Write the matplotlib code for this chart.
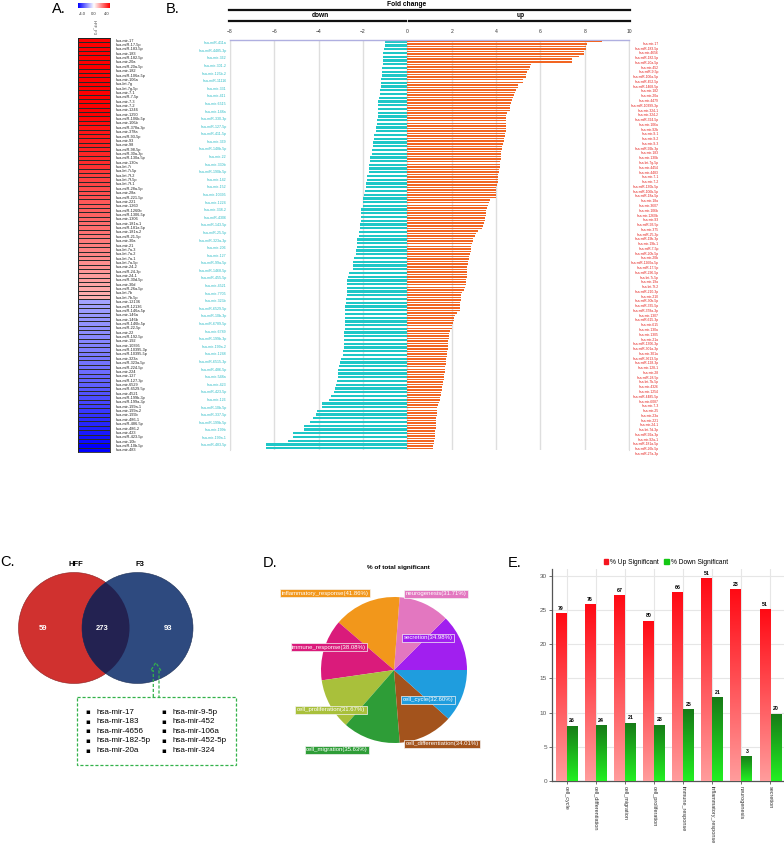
import numpy as np
import matplotlib
matplotlib.use("Agg")
import matplotlib.pyplot as plt
from matplotlib.patches import Circle, Rectangle, Patch
from matplotlib.colors import LinearSegmentedColormap

# ---------------- data ----------------
heat_names = [
    "hsa-mir-17", "hsa-miR-17-5p", "hsa-miR-183-5p", "hsa-mir-183", "hsa-miR-182-5p",
    "hsa-mir-20a", "hsa-miR-20a-5p", "hsa-mir-182", "hsa-miR-106a-5p", "hsa-mir-106a",
    "hsa-let-7g", "hsa-let-7g-5p", "hsa-mir-7-1", "hsa-miR-7-5p", "hsa-mir-7-3",
    "hsa-mir-7-2", "hsa-mir-1246", "hsa-mir-1290", "hsa-miR-106b-5p", "hsa-mir-106b",
    "hsa-miR-378a-3p", "hsa-mir-378a", "hsa-miR-93-5p", "hsa-mir-93", "hsa-mir-98",
    "hsa-miR-98-5p", "hsa-miR-30a-3p", "hsa-miR-130a-5p", "hsa-mir-130a", "hsa-let-7i",
    "hsa-let-7i-5p", "hsa-let-7f-2", "hsa-let-7f-5p", "hsa-let-7f-1", "hsa-miR-28a-5p",
    "hsa-mir-28a", "hsa-miR-221-5p", "hsa-mir-221", "hsa-mir-1260", "hsa-miR-1260b",
    "hsa-miR-1306-5p", "hsa-mir-1306", "hsa-mir-181a-1", "hsa-miR-181a-5p", "hsa-mir-181a-2",
    "hsa-miR-21-5p", "hsa-mir-30a", "hsa-mir-21", "hsa-let-7a-3", "hsa-let-7a-2",
    "hsa-let-7a-1", "hsa-let-7a-5p", "hsa-mir-24-2", "hsa-miR-24-3p", "hsa-mir-24-1",
    "hsa-miR-30d-5p", "hsa-mir-30d", "hsa-miR-26a-5p", "hsa-let-7b", "hsa-let-7b-5p",
    "hsa-mir-12136", "hsa-miR-12136", "hsa-miR-146a-5p", "hsa-mir-146a", "hsa-mir-146b",
    "hsa-miR-146b-5p", "hsa-miR-22-5p", "hsa-mir-22", "hsa-miR-192-5p", "hsa-mir-192",
    "hsa-mir-10395", "hsa-miR-10395-3p", "hsa-miR-10395-5p", "hsa-mir-323a", "hsa-miR-323a-5p",
    "hsa-miR-224-5p", "hsa-mir-224", "hsa-mir-127", "hsa-miR-127-3p", "hsa-mir-6529",
    "hsa-miR-6529-5p", "hsa-mir-4521", "hsa-miR-199b-3p", "hsa-miR-199a-3p", "hsa-mir-199a-1",
    "hsa-mir-199a-2", "hsa-mir-199b", "hsa-mir-486-1", "hsa-miR-486-5p", "hsa-mir-486-2",
    "hsa-mir-423", "hsa-miR-423-5p", "hsa-mir-10b", "hsa-miR-10b-5p", "hsa-mir-483",
]
heat_values = [
    6.2, 6.0, 5.8, 5.6, 5.5, 5.4, 5.2, 5.1, 5.0, 4.9,
    4.8, 4.7, 4.6, 4.5, 4.4, 4.3, 4.2, 4.1, 3.9, 3.8,
    3.7, 3.65, 3.6, 3.55, 3.5, 3.45, 3.4, 3.35, 3.3, 3.2,
    3.1, 3.0, 2.95, 2.9, 2.8, 2.75, 2.7, 2.6, 2.55, 2.5,
    2.45, 2.4, 2.3, 2.25, 2.2, 2.1, 2.05, 2.0, 1.95, 1.9,
    1.8, 1.75, 1.7, 1.6, 1.55, 1.5, 1.4, 1.35, 1.3, 1.2,
    -1.45, -1.5, -1.55, -1.6, -1.65, -1.7, -1.75, -1.8, -1.85, -1.9,
    -1.95, -2.0, -2.05, -2.1, -2.2, -2.25, -2.3, -2.4, -2.45, -2.5,
    -2.6, -2.7, -2.8, -2.9, -3.0, -3.1, -3.2, -3.3, -3.4, -3.5,
    -3.6, -3.7, -3.8, -4.0, -4.4,
]

down_labels = [
    "hsa-miR-411a", "hsa-miR-4485-3p", "hsa-mir-362", "hsa-mir-301-2", "hsa-mir-125b-2",
    "hsa-miR-11116", "hsa-mir-331", "hsa-mir-411", "hsa-mir-6515", "hsa-mir-148a",
    "hsa-miR-330-3p", "hsa-miR-127-5p", "hsa-miR-411-5p", "hsa-mir-369", "hsa-miR-148b-5p",
    "hsa-mir-22", "hsa-mir-330b", "hsa-miR-190b-5p", "hsa-mir-142", "hsa-mir-152",
    "hsa-mir-10395", "hsa-mir-1224", "hsa-mir-338-2", "hsa-miR-4306", "hsa-miR-143-5p",
    "hsa-miR-25-5p", "hsa-miR-323a-3p", "hsa-mir-206", "hsa-mir-127", "hsa-miR-99a-5p",
    "hsa-miR-1468-5p", "hsa-miR-455-5p", "hsa-mir-4521", "hsa-mir-7705", "hsa-mir-323b",
    "hsa-miR-6529-5p", "hsa-miR-10b-3p", "hsa-miR-6789-5p", "hsa-mir-6789", "hsa-miR-199b-3p",
    "hsa-mir-199a-2", "hsa-mir-1248", "hsa-miR-6515-3p", "hsa-miR-486-5p", "hsa-mir-548a",
    "hsa-mir-423", "hsa-miR-423-5p", "hsa-mir-126", "hsa-miR-10b-5p", "hsa-miR-337-5p",
    "hsa-miR-199b-5p", "hsa-mir-199b", "hsa-mir-199a-1", "hsa-miR-483-5p",
]
down_values = [
    -1.02, -1.02, -1.07, -1.08, -1.08, -1.08, -1.11, -1.13, -1.13, -1.14,
    -1.17, -1.20, -1.20, -1.22, -1.23, -1.29, -1.32, -1.32, -1.32, -1.34,
    -1.34, -1.38, -1.38, -1.41, -1.43, -1.50, -1.52, -1.53, -1.55, -1.58,
    -1.58, -1.68, -1.70, -1.73, -1.74, -1.75, -1.80, -1.82, -1.85, -1.86,
    -1.89, -1.95, -1.98, -1.98, -2.00, -2.07, -2.10, -2.10, -2.10, -2.12,
    -2.13, -2.16, -2.19, -2.25, -2.27, -2.28, -2.31, -2.31, -2.40, -2.43,
    -2.45, -2.45, -2.61, -2.67, -2.70, -2.70, -2.73, -2.73, -2.73, -2.76,
    -2.76, -2.79, -2.79, -2.81, -2.81, -2.81, -2.82, -2.82, -2.85, -2.85,
    -2.85, -2.85, -2.87, -2.88, -2.90, -2.97, -3.03, -3.09, -3.11, -3.11,
    -3.12, -3.18, -3.21, -3.27, -3.30, -3.45, -3.54, -3.87, -3.87, -4.07,
    -4.10, -4.24, -4.38, -4.64, -4.64, -5.15, -5.16, -5.40, -6.37, -6.37,
]

up_labels = [
    "hsa-mir-17", "hsa-miR-183-5p", "hsa-mir-4656", "hsa-miR-182-5p", "hsa-miR-20a-5p",
    "hsa-mir-452", "hsa-miR-9-5p", "hsa-miR-106a-5p", "hsa-miR-452-5p", "hsa-miR-1468-5p",
    "hsa-mir-182", "hsa-mir-20a", "hsa-mir-4479", "hsa-miR-10399-3p", "hsa-mir-324-1",
    "hsa-mir-324-2", "hsa-miR-324-5p", "hsa-mir-106a", "hsa-mir-92b", "hsa-mir-9-1",
    "hsa-mir-9-2", "hsa-mir-9-3", "hsa-miR-92b-3p", "hsa-mir-183", "hsa-mir-130b",
    "hsa-let-7g-5p", "hsa-mir-4454", "hsa-mir-4483", "hsa-mir-7-1", "hsa-mir-7-2",
    "hsa-miR-130b-5p", "hsa-miR-106b-5p", "hsa-miR-18a-5p", "hsa-mir-18a", "hsa-mir-3607",
    "hsa-mir-106b", "hsa-mir-1260b", "hsa-mir-93", "hsa-miR-93-5p", "hsa-mir-375",
    "hsa-miR-25-3p", "hsa-miR-19b-3p", "hsa-mir-19b-1", "hsa-miR-7-5p", "hsa-miR-20b-5p",
    "hsa-mir-20b", "hsa-miR-1260a-5p", "hsa-miR-17-5p", "hsa-miR-296-5p", "hsa-let-7i-5p",
    "hsa-mir-19a", "hsa-let-7f-2", "hsa-miR-210-3p", "hsa-mir-210", "hsa-miR-30b-5p",
    "hsa-miR-335-5p", "hsa-miR-378a-3p", "hsa-mir-1307", "hsa-miR-615-3p", "hsa-mir-615",
    "hsa-mir-130a", "hsa-mir-1305", "hsa-mir-21a", "hsa-miR-1306-3p", "hsa-miR-301a-3p",
    "hsa-mir-301a", "hsa-miR-3613-5p", "hsa-miR-128-3p", "hsa-mir-128-1", "hsa-mir-28",
    "hsa-miR-28-5p", "hsa-let-7b-5p", "hsa-mir-4326", "hsa-mir-1254", "hsa-miR-4485-5p",
    "hsa-mir-6087", "hsa-mir-7-3", "hsa-mir-25", "hsa-mir-23a", "hsa-mir-221",
    "hsa-mir-24-1", "hsa-let-7d-3p", "hsa-miR-92a-3p", "hsa-mir-92a-1", "hsa-miR-181a-5p",
    "hsa-miR-26b-5p", "hsa-miR-27a-3p",
]
up_values = [
    8.76, 8.11, 8.08, 8.08, 7.96, 7.96, 7.75, 7.42, 7.42, 5.57,
    5.54, 5.51, 5.38, 5.35, 5.35, 5.22, 5.20, 5.00, 4.97, 4.90,
    4.87, 4.82, 4.78, 4.73, 4.66, 4.63, 4.63, 4.63, 4.48, 4.46,
    4.46, 4.46, 4.45, 4.45, 4.43, 4.43, 4.42, 4.40, 4.37, 4.34,
    4.32, 4.29, 4.26, 4.24, 4.22, 4.22, 4.22, 4.20, 4.18, 4.17,
    4.13, 4.12, 4.11, 4.10, 4.10, 4.08, 4.05, 4.02, 4.00, 4.00,
    3.99, 3.98, 3.72, 3.68, 3.66, 3.60, 3.57, 3.54, 3.53, 3.51,
    3.50, 3.47, 3.40, 3.35, 3.20, 3.08, 3.04, 2.97, 2.95, 2.91,
    2.89, 2.87, 2.85, 2.82, 2.79, 2.76, 2.74, 2.72, 2.71, 2.70,
    2.69, 2.69, 2.67, 2.66, 2.64, 2.63, 2.58, 2.54, 2.47, 2.42,
    2.41, 2.40, 2.39, 2.38, 2.37, 2.36, 2.25, 2.15, 2.11, 2.09,
    2.06, 2.03, 2.00, 1.93, 1.89, 1.88, 1.86, 1.85, 1.84, 1.83,
    1.82, 1.81, 1.80, 1.78, 1.76, 1.74, 1.73, 1.72, 1.70, 1.68,
    1.67, 1.66, 1.65, 1.62, 1.60, 1.56, 1.55, 1.53, 1.51, 1.47,
    1.46, 1.45, 1.40, 1.35, 1.35, 1.34, 1.32, 1.30, 1.29, 1.29,
    1.28, 1.28, 1.27, 1.26, 1.25, 1.23, 1.22, 1.20, 1.18, 1.17,
]

venn_sets = ["HFF", "F3"]
venn_counts = [59, 273, 93]   # HFF only, shared, F3 only
highlight_mirs = ["hsa-mir-17", "hsa-mir-183", "hsa-mir-4656", "hsa-mir-182-5p", "hsa-mir-20a",
                  "hsa-mir-9-5p", "hsa-mir-452", "hsa-mir-106a", "hsa-mir-452-5p", "hsa-mir-324"]

pie_terms = ["secretion", "neurogenesis", "inflammatory_response", "immune_response",
             "cell_proliferation", "cell_migration", "cell_differentiation", "cell_cycle"]
pie_pct = [34.98, 31.71, 41.86, 38.08, 31.67, 35.63, 34.01, 32.60]
pie_colors = ["#A11FEF", "#E377C0", "#F2971B", "#DA1B7B", "#A9C03B", "#2E9D37", "#A3531C", "#1F9DDE"]

go_terms = ["cell_cycle", "cell_differentiation", "cell_migration", "cell_proliferation",
            "immune_response", "inflammatory_response", "neurogenesis", "secretion"]
up_pct = [24.53, 25.85, 27.13, 23.46, 27.62, 29.65, 28.05, 25.13]
down_pct = [8.07, 8.16, 8.50, 8.21, 10.46, 12.21, 3.66, 9.85]
up_n = [79, 76, 67, 80, 66, 51, 23, 51]
down_n = [26, 24, 21, 28, 25, 21, 3, 20]

# ---------------- figure ----------------
W, H = 784, 848
plt.rcParams['font.family'] = ['Liberation Sans', 'DejaVu Sans']
fig = plt.figure(figsize=(W / 100, H / 100), dpi=100)


def px(x0, y0, x1, y1):
    return [x0 / W, 1 - y1 / H, (x1 - x0) / W, (y1 - y0) / H]


ov = fig.add_axes([0, 0, 1, 1], zorder=5)
ov.set_xlim(0, W)
ov.set_ylim(H, 0)
ov.axis('off')
ov.patch.set_visible(False)

# panel letters
for lab, x, y in [("A.", 52, 9), ("B.", 166, 9), ("C.", 0, 562), ("D.", 263, 563), ("E.", 508, 563)]:
    ov.text(x, y, lab, fontsize=10.5, ha='left', va='center')

# ---------------- Panel A : heatmap ----------------
cmapA = plt.get_cmap('bwr')
axCb = fig.add_axes(px(78, 3, 110, 8))
axCb.imshow(np.linspace(-4, 4, 256)[None, :], cmap=cmapA, aspect='auto', vmin=-4, vmax=4)
axCb.axis('off')
for v, x in [(-4.0, 82), (0.0, 94), (4.0, 106.5)]:
    ov.text(x, 14.3, f"{v:.1f}", fontsize=3.0, ha='center', va='center', color='#333')
ov.text(94, 28, "HFF_F3", fontsize=2.9, rotation=-90, ha='center', va='center', color='#333')

axA = fig.add_axes(px(78, 38, 110, 452))
hv = np.array(heat_values)[:, None]
axA.pcolormesh(hv, cmap=cmapA, vmin=-4, vmax=4, edgecolors='#2a2a2a', linewidth=0.45)
axA.set_ylim(len(heat_values), 0)
axA.set_xticks([])
axA.set_yticks(np.arange(len(heat_names)) + 0.5)
axA.set_yticklabels(heat_names, fontsize=2.8, color='#222')
axA.yaxis.tick_right()
axA.tick_params(axis='y', length=0, pad=4.5)
for s in axA.spines.values():
    s.set_color('#222')
    s.set_linewidth(0.6)

# ---------------- Panel B : diverging bars ----------------
axB = fig.add_axes(px(230, 40, 629, 450))
nd = len(down_values)
axB.barh(np.arange(nd), down_values, height=0.62, color='#1FC7C7', zorder=2)
axB.set_ylim(nd - 0.5, -0.5)
axB.set_xlim(-8, 10)
axB.set_yticks([])
axB.xaxis.tick_top()
axB.set_xticks(np.arange(-8, 11, 2))
axB.tick_params(axis='x', labelsize=3.6, length=0, pad=4, labelcolor='#333')
axB.grid(axis='x', color='#DEDEDE', lw=1)
axB.set_axisbelow(True)
axB.spines['top'].set_color('#AFAFE0')
axB.spines['top'].set_linewidth(1.0)
axB.spines['bottom'].set_visible(False)
for s in ('left', 'right'):
    axB.spines[s].set_color('#DEDEDE')

axU = axB.twinx()
nu = len(up_values)
axU.barh(np.arange(nu), up_values, height=0.6, color='#F26522', zorder=2)
axU.set_ylim(nu - 0.5, -0.5)
axU.set_yticks([])
for s in axU.spines.values():
    s.set_visible(False)

# label axes (left: down genes, right: up genes)
axLL = fig.add_axes(px(230, 38.9, 629, 38.9 + 7.59 * len(down_labels)))
axLL.set_ylim(len(down_labels) - 0.5, -0.5)
axLL.set_yticks(np.arange(len(down_labels)))
axLL.set_yticklabels(down_labels, fontsize=2.6, color='#2BBCC6')
axLL.set_xticks([])
axLL.tick_params(axis='y', length=0, pad=2.5)
axLL.patch.set_visible(False)
for s in axLL.spines.values():
    s.set_visible(False)

axRL = fig.add_axes(px(230, 40.9, 629, 40.9 + 4.77 * len(up_labels)))
axRL.set_ylim(len(up_labels) - 0.5, -0.5)
axRL.yaxis.tick_right()
axRL.set_yticks(np.arange(len(up_labels)))
axRL.set_yticklabels(up_labels, fontsize=2.4, color='#E5201C', ha='right')
axRL.set_xticks([])
axRL.tick_params(axis='y', length=0, pad=21.5)
axRL.patch.set_visible(False)
for s in axRL.spines.values():
    s.set_visible(False)

# headers
ov.text(407, 4.5, "Fold change", fontsize=4.8, weight='bold', ha='center', va='center')
ov.plot([229, 630], [10, 10], color='#111', lw=1.6)
ov.text(320, 15.7, "down", fontsize=4.8, weight='bold', ha='center', va='center')
ov.text(521, 15.7, "up", fontsize=4.8, weight='bold', ha='center', va='center')
ov.plot([229, 406], [21, 21], color='#111', lw=1.6)
ov.plot([409, 630], [21, 21], color='#111', lw=1.6)

# ---------------- Panel C : Venn ----------------
r = 55.5
c1 = Circle((74, 628), r, fc='#D0312F', ec='#8a1f1f', lw=0.4)
c2 = Circle((137.5, 628), r, fc='#2E4A7F', ec='#1d2f55', lw=0.4)
ov.add_patch(c1)
ov.add_patch(c2)
c12 = Circle((137.5, 628), r, fc='#232251', ec='none')
ov.add_patch(c12)
c12.set_clip_path(Circle((74, 628), r, transform=ov.transData))
ov.text(76, 565, venn_sets[0], fontsize=5.5, weight='bold', ha='center', va='center')
ov.text(140, 565, venn_sets[1], fontsize=5.5, weight='bold', ha='center', va='center')
for val, x in zip(venn_counts, [43, 102, 168]):
    ov.text(x, 629, str(val), fontsize=5.5, weight='bold', color='white', ha='center', va='center')

gc = '#33B24A'
arrow = [(153.3, 697), (153.3, 670.7), (150.7, 670.7), (155.8, 662.5), (161, 670.7), (159, 670.7), (159, 697)]
ov.plot([p[0] for p in arrow], [p[1] for p in arrow], color=gc, lw=0.9, ls=(0, (2.5, 1.5)))
ov.add_patch(Rectangle((76.7, 697), 159.5, 68, fill=False, ec=gc, lw=0.9, ls=(0, (2.5, 1.5))))
row_y = [712, 721.5, 731.2, 741, 751]
for k, name in enumerate(highlight_mirs):
    col, row = divmod(k, 5)
    bx = 88 if col == 0 else 164
    ov.text(bx, row_y[row], "\u25aa", fontsize=5, ha='center', va='center', family='DejaVu Sans')
    ov.text(bx + 9, row_y[row], name, fontsize=5.8, ha='left', va='center')

# ---------------- Panel D : pie ----------------
ov.text(398, 568, "% of total significant", fontsize=4.6, weight='bold', ha='center', va='center')
axD = fig.add_axes(px(321, 597, 467, 743))
axD.pie(pie_pct, colors=pie_colors, startangle=0, counterclock=True, wedgeprops=dict(lw=0))
axD.set_xlim(-1, 1)
axD.set_ylim(-1, 1)
axD.set_aspect('equal')
label_pos = {
    "inflammatory_response": (325, 593), "neurogenesis": (436, 594), "secretion": (428, 638),
    "immune_response": (329, 647), "cell_cycle": (428, 700), "cell_proliferation": (331, 710),
    "cell_differentiation": (442, 744), "cell_migration": (337, 750),
}
for term, pct, col in zip(pie_terms, pie_pct, pie_colors):
    x, y = label_pos[term]
    ov.text(x, y, f"{term}({pct:.2f}%)", fontsize=4.3, color='white', ha='center', va='center',
            bbox=dict(boxstyle='square,pad=0.25', fc=col, ec='#f4f4f4', lw=0.5))

# ---------------- Panel E : grouped gradient bars ----------------
axE = fig.add_axes(px(552, 569, 785, 781))
xs = np.arange(len(go_terms))
bw = 0.37
bu = axE.bar(xs - 0.19, up_pct, width=bw, color='#FF3030', zorder=2)
bd = axE.bar(xs + 0.19, down_pct, width=bw, color='#20B020', zorder=2)


def grad(ax, bar, c_top, c_bot):
    x, y = bar.get_x(), bar.get_y()
    w, h = bar.get_width(), bar.get_height()
    cm = LinearSegmentedColormap.from_list('g', [c_bot, c_top])
    im = ax.imshow(np.linspace(0, 1, 128)[:, None], cmap=cm, extent=[x, x + w, y, y + h],
                   origin='lower', aspect='auto', zorder=3)
    im.set_clip_path(bar)
    bar.set_facecolor('none')
    bar.set_edgecolor('none')


for b in bu:
    grad(axE, b, '#FF0A14', '#FF9C9C')
for b in bd:
    grad(axE, b, '#177A17', '#22F022')
for b, n in zip(bu, up_n):
    axE.text(b.get_x() + b.get_width() / 2, b.get_height() + 0.35, str(n), ha='center', va='bottom',
             fontsize=3.8, weight='bold', zorder=4)
for b, n in zip(bd, down_n):
    axE.text(b.get_x() + b.get_width() / 2, b.get_height() + 0.35, str(n), ha='center', va='bottom',
             fontsize=3.8, weight='bold', zorder=4)
axE.set_xlim(-0.5, len(go_terms) - 0.5)
axE.set_ylim(0, 31)
axE.set_xticks(xs)
axE.set_xticklabels(go_terms, rotation=270, fontsize=4.0, color='#333', va='top', ha='center')
axE.set_yticks(np.arange(0, 31, 5))
axE.tick_params(axis='y', labelsize=4.6, labelcolor='#555', length=2, width=0.6, color='#555', pad=1.5)
axE.tick_params(axis='x', length=2, width=0.6, color='#555', pad=1.5)
axE.grid(True, color='#E6E6E6', lw=0.8)
axE.set_axisbelow(True)
for s in ('top', 'right'):
    axE.spines[s].set_visible(False)
for s in ('left', 'bottom'):
    axE.spines[s].set_color('#555')
    axE.spines[s].set_linewidth(0.9)
fig.legend(handles=[Patch(color='#F5141E', label='% Up Significant'),
                    Patch(color='#14C814', label='% Down Significant')],
           loc='center', bbox_to_anchor=(666 / W, 1 - 562 / H), ncol=2, frameon=False,
           fontsize=4.8, handlelength=0.7, handleheight=0.7, handletextpad=0.3, columnspacing=0.8)

fig.savefig("out.png", dpi=100)
